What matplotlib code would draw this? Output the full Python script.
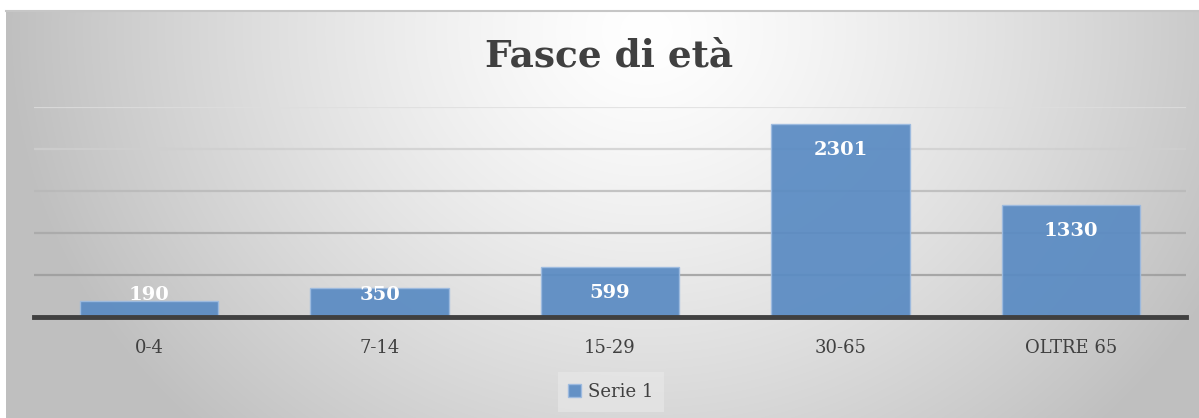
import matplotlib.pyplot as plt
import numpy as np

categorie = ['0-4', '7-14', '15-29', '30-65', 'OLTRE 65']
valori = [190, 350, 599, 2301, 1330]
serie = 'Serie 1'
titolo = 'Fasce di età'

W, H = 1199, 418
fig = plt.figure(figsize=(W / 100, H / 100), dpi=100)
fig.patch.set_facecolor('white')

# sfondo con gradiente radiale
x0, y0 = 6 / W, 0
bg = fig.add_axes([x0, y0, 1 - x0, 1 - 11 / H], zorder=0)
px = np.arange(W - 6)
py = np.arange(H - 11)
X, Y = np.meshgrid(px, py)
r = np.sqrt(((X - 640) / 640) ** 2 + ((Y - 20) / 560) ** 2)
r = np.clip(r, 0, 1)
shade = 1.0 - 0.25 * r ** 1.3
bg.imshow(np.dstack([shade, shade, shade]), aspect='auto', origin='upper',
          extent=[0, 1, 0, 1])
bg.set_axis_off()
fig.add_artist(plt.Line2D([x0, 1], [1 - 11 / H, 1 - 11 / H], color='#c6c6c6',
                          lw=1.5, transform=fig.transFigure))

ax = fig.add_axes([34 / W, 1 - 317 / H, 1152 / W, 210 / H], zorder=1)
ax.patch.set_alpha(0)
pos = np.arange(len(categorie))
bars = ax.bar(pos, valori, width=0.6, color='#5a8bc3', alpha=0.93,
              edgecolor='#9dbbe0', linewidth=1, zorder=3, label=serie)
ax.set_xlim(-0.5, len(categorie) - 0.5)
ax.set_ylim(0, 2500)
ax.set_yticks(np.arange(0, 2501, 500))
ax.yaxis.grid(True, lw=1.6, zorder=0)
grid_cols = ['none', '#9a9a9a', '#a6a6a6', '#b8b8b8', '#cfcfcf', '#dedede']
for gl, c in zip(ax.yaxis.get_gridlines(), grid_cols):
    gl.set_color(c)
    gl.set_zorder(4)
    gl.set_alpha(0.8)
ax.tick_params(axis='y', left=False, labelleft=False)
ax.tick_params(axis='x', bottom=False, labelsize=13, labelcolor='#404040', pad=12)
ax.set_xticks(pos)
ax.set_xticklabels(categorie, family='DejaVu Serif')
for s in ['top', 'right', 'left']:
    ax.spines[s].set_visible(False)
ax.spines['bottom'].set_color('#404040')
ax.spines['bottom'].set_linewidth(3.5)
ax.spines['bottom'].set_zorder(5)

# etichette dei valori dentro le barre
px_val = 2500 / 210
for p, v in zip(pos, valori):
    yl = max(v - 26 * px_val, 22 * px_val)
    ax.text(p, yl, str(v), ha='center', va='center', color='white',
            fontsize=14, fontweight='bold', family='DejaVu Serif', zorder=6)

fig.text(0.508, 0.865, titolo, ha='center', va='center', fontsize=27,
         fontweight='bold', color='#404040', family='DejaVu Serif')

leg = fig.legend(handles=[bars], labels=[serie], loc='center',
                 bbox_to_anchor=(611 / W, 1 - 392 / H), frameon=True,
                 prop={'family': 'DejaVu Serif', 'size': 13},
                 handlelength=0.7, handleheight=0.7, handletextpad=0.4,
                 borderpad=0.6, fancybox=False)
leg.get_frame().set_facecolor('#e9e9e9')
leg.get_frame().set_edgecolor('none')
leg.get_frame().set_alpha(0.6)
for t in leg.get_texts():
    t.set_color('#404040')

fig.savefig('out.png', dpi=100)
